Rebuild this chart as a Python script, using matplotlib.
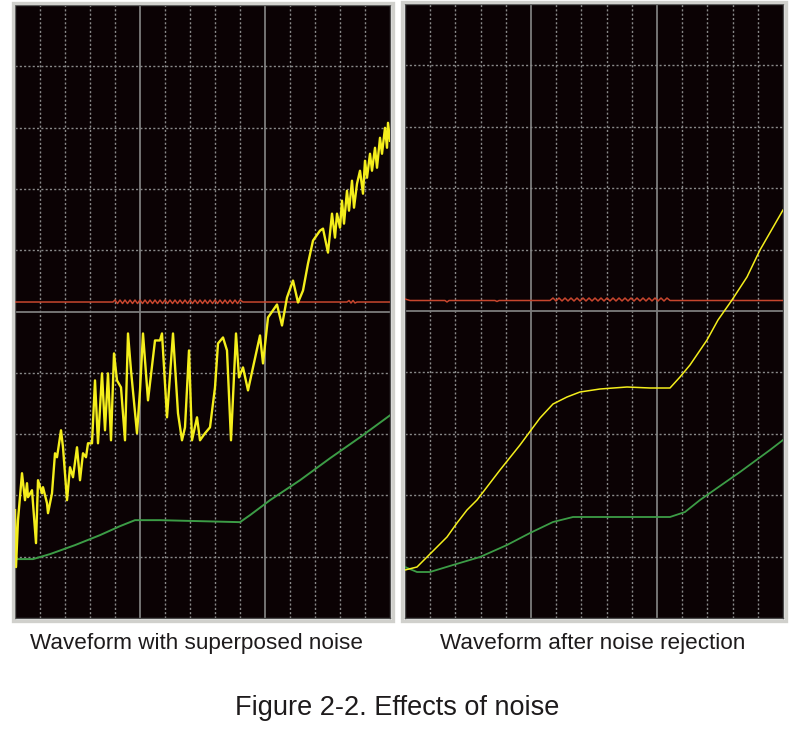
import matplotlib
matplotlib.use("Agg")
import matplotlib.pyplot as plt
from matplotlib.patches import Rectangle

plt.rcParams['font.family'] = ['Liberation Sans', 'DejaVu Sans']

# scope readings: time in samples, amplitude in counts (one division = 61.4 counts)
yellow_left_t = [0, 1, 3, 7, 10, 12, 13, 17, 21, 23, 27, 28, 32, 33, 37, 40, 42, 46, 48, 52,
                 55, 58, 62, 65, 68, 71, 73, 77, 80, 83, 87, 90, 93, 96, 99, 102, 106, 110, 113, 116,
                 122, 125, 128, 133, 140, 145, 147, 152, 158, 163, 167, 170, 174, 177, 182, 185, 190, 195, 200, 203,
                 208, 212, 216, 221, 224, 228, 233, 238, 245, 248, 253, 262, 267, 272, 278, 283, 288, 293, 298, 305,
                 308, 313, 317, 320, 322, 325, 327, 329, 332, 334, 337, 339, 342, 345, 348, 350, 352, 355, 357, 360,
                 362, 365, 367, 370, 372, 373, 375]
yellow_left_v = [-199, -256, -209, -162, -189, -172, -186, -179, -232, -169, -182, -176, -192, -202, -182, -142, -146, -119, -136, -189,
                 -156, -166, -136, -169, -142, -146, -132, -132, -69, -132, -62, -119, -62, -129, -42, -69, -76, -129, -22, -59,
                 -122, -79, -22, -89, -29, -29, -22, -106, -22, -102, -129, -116, -39, -129, -106, -129, -122, -116, -76, -32,
                 -26, -39, -129, -22, -66, -56, -79, -56, -24, -52, -6, 7, -14, 14, 31, 9, 21, 48, 71, 81,
                 83, 59, 98, 74, 98, 84, 111, 88, 121, 101, 131, 104, 128, 141, 118, 151, 134, 158, 141, 164,
                 144, 174, 158, 184, 164, 189, 171]

green_left_t = [0, 18, 35, 60, 85, 105, 120, 145, 185, 225, 235, 255, 285, 315, 345, 375]
green_left_v = [-248, -248, -243, -234, -224, -215, -209, -209, -210, -211, -204, -189, -169, -147, -126, -104]

red_left_t = [0, 98,
              100, 102.5, 105, 107.5, 110, 112.5, 115, 117.5, 120, 122.5, 125, 127.5, 130, 132.5,
              135, 137.5, 140, 142.5, 145, 147.5, 150, 152.5, 155, 157.5, 160, 162.5, 165, 167.5,
              170, 172.5, 175, 177.5, 180, 182.5, 185, 187.5, 190, 192.5, 195, 197.5, 200, 202.5,
              205, 207.5, 210, 212.5, 215, 217.5, 220, 222.5, 225,
              228, 332, 334, 336, 338, 340, 342, 375]
red_left_v = [9.5, 9.5,
              11.5, 8, 11.5, 8, 11.5, 8, 11.5, 8, 11.5, 8, 11.5, 8, 11.5, 8,
              11.5, 8, 11.5, 8, 11.5, 8, 11.5, 8, 11.5, 8, 11.5, 8, 11.5, 8,
              11.5, 8, 11.5, 8, 11.5, 8, 11.5, 8, 11.5, 8, 11.5, 8, 11.5, 8,
              11.5, 8, 11.5, 8, 11.5, 8, 11.5, 8, 11.5,
              9.5, 9.5, 11, 8.5, 11, 8.5, 9.5, 9.5]

yellow_right_t = [0, 12, 22, 32, 42, 52, 62, 72, 95, 115, 135, 148, 162, 175, 195, 222, 245, 265,
                  275, 285, 302, 313, 327, 342, 355, 378]
yellow_right_v = [-259, -256, -246, -236, -226, -212, -199, -189, -159, -134, -107, -93, -86, -81, -78, -76, -77, -77,
                  -66, -54, -29, -9, 11, 34, 61, 101]

green_right_t = [0, 12, 25, 48, 75, 102, 125, 148, 168, 215, 265, 280, 295, 335, 365, 378]
green_right_v = [-256, -261, -261, -254, -246, -234, -222, -211, -206, -206, -206, -201, -189, -161, -139, -129]

red_right_t = [0, 5, 40, 42, 44, 90, 92, 94, 145,
               148, 151, 154, 157, 160, 163, 166, 169, 172, 175, 178, 181, 184, 187, 190, 193,
               196, 199, 202, 205, 208, 211, 214, 217, 220, 223, 226, 229, 232, 235, 238, 241,
               244, 247, 250, 253, 256, 259, 262, 265, 378]
red_right_v = [12, 10.5, 10.5, 9, 10.5, 10.5, 9.5, 10.5, 10.5,
               13, 10, 13, 10, 13, 10, 13, 10, 13, 10, 13, 10, 13, 10, 13, 10,
               13, 10, 13, 10, 13, 10, 13, 10, 13, 10, 13, 10, 13, 10, 13, 10,
               13, 10, 13, 10, 13, 10, 13, 10.5, 10.5]

BG = '#0b0204'
GRID = '#8a8a8a'
CENTER = '#7c7c7c'
YELLOW = '#f4ee1c'
GREEN = '#3c9c46'
RED = '#c8462e'
TEXT = '#1e1b1c'
DIV_Y = 61.4


def scope_ax(ax, width):
    div_x = width / 15.0
    ax.set_facecolor(BG)
    ax.set_xlim(0, width)
    ax.set_ylim(-5 * DIV_Y, 5 * DIV_Y)
    for i in range(1, 15):
        if i % 5 == 0:
            ax.axvline(i * div_x, color=CENTER, lw=1.3, zorder=1)
        else:
            ax.axvline(i * div_x, color=GRID, lw=1.0, ls=(0, (1.5, 1.6)), zorder=1)
    for j in range(-4, 5):
        if j == 0:
            ax.axhline(0, color=CENTER, lw=1.3, zorder=1)
        else:
            ax.axhline(j * DIV_Y, color=GRID, lw=1.0, ls=(0, (1.5, 1.6)), zorder=1)
    ax.set_xticks([])
    ax.set_yticks([])
    for s in ax.spines.values():
        s.set_color('#4c4c4c')
        s.set_linewidth(1.0)


def frame(fig, ax):
    pos = ax.get_position()
    px, py = 2.5 / 800, 2.5 / 733
    fig.patches.append(Rectangle((pos.x0 - px, pos.y0 - py), pos.width + 2 * px, pos.height + 2 * py,
                                 transform=fig.transFigure, fill=False, edgecolor='#d0d0cc', lw=2.4))


fig = plt.figure(figsize=(8, 7.33), dpi=100)
ax1 = fig.add_axes([15 / 800, 115 / 733, 375 / 800, 613 / 733])
ax2 = fig.add_axes([405 / 800, 115 / 733, 378 / 800, 614 / 733])

scope_ax(ax1, 375)
scope_ax(ax2, 378)
frame(fig, ax1)
frame(fig, ax2)

ax1.plot(red_left_t, red_left_v, color=RED, lw=1.1, zorder=3)
ax1.plot(green_left_t, green_left_v, color=GREEN, lw=1.4, zorder=3)
ax1.plot(yellow_left_t, yellow_left_v, color=YELLOW, lw=1.7, zorder=4)

ax2.plot(red_right_t, red_right_v, color=RED, lw=1.1, zorder=3)
ax2.plot(green_right_t, green_right_v, color=GREEN, lw=1.3, zorder=3)
ax2.plot(yellow_right_t, yellow_right_v, color=YELLOW, lw=1.1, zorder=4)

fig.text(197 / 800, 1 - 643 / 733, 'Waveform with superposed noise', ha='center', va='center',
         fontsize=16.2, color=TEXT)
fig.text(593 / 800, 1 - 643 / 733, 'Waveform after noise rejection', ha='center', va='center',
         fontsize=16.2, color=TEXT)
fig.text(397 / 800, 1 - 708 / 733, 'Figure 2-2. Effects of noise', ha='center', va='center',
         fontsize=19.5, color=TEXT)

fig.savefig('out.png', dpi=100, facecolor='white')
